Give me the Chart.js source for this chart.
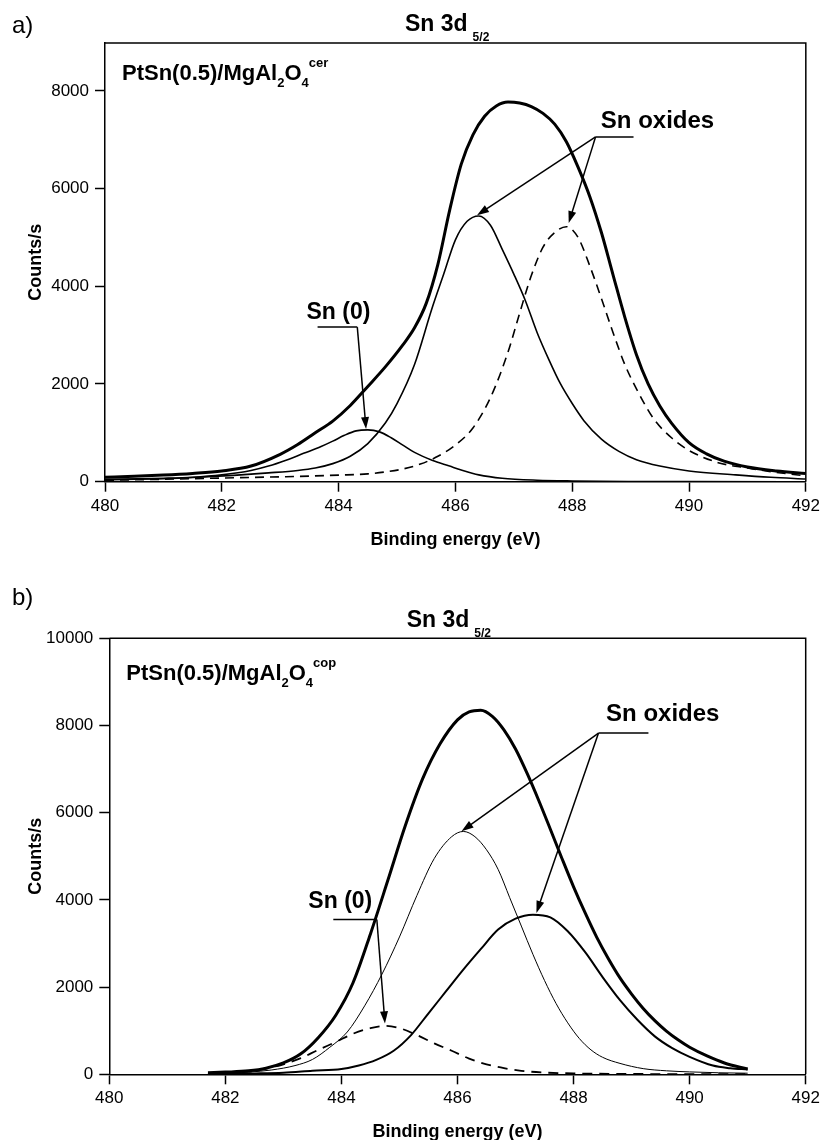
<!DOCTYPE html>
<html>
<head>
<meta charset="utf-8">
<title>Sn 3d 5/2</title>
<script src="https://cdn.jsdelivr.net/npm/chart.js@4.4.1/dist/chart.umd.min.js"></script>
<style>
body { margin: 0; background: #fff; }
canvas { position: absolute; left: 0; }
#chartA { top: 0; }
#chartB { top: 560px; }
</style>
</head>
<body>
<canvas id="chartA" width="824" height="560"></canvas>
<canvas id="chartB" width="824" height="580"></canvas>
<script>
"use strict";

const FONT = "'Liberation Sans', Arial, Helvetica, sans-serif";

// axis ticks
let xTicks = [480, 482, 484, 486, 488, 490, 492];
let yTicksA = [0, 2000, 4000, 6000, 8000];
let yTicksB = [0, 2000, 4000, 6000, 8000, 10000];

/* ---- a) PtSn(0.5)/MgAl2O4 cer ---- */
// envelope (thick)
let aEnvE = [480.0, 480.5, 481.0, 481.5, 482.0, 482.5, 483.0, 483.3, 483.6, 483.9, 484.2, 484.5, 484.8, 485.1, 485.3, 485.5, 485.7, 485.9, 486.1, 486.3, 486.5, 486.7, 486.9, 487.1, 487.3, 487.5, 487.7, 487.9, 488.1, 488.3, 488.5, 488.7, 488.9, 489.1, 489.3, 489.5, 489.7, 490.0, 490.3, 490.6, 491.0, 491.5, 492.0];
let aEnvV = [90, 110, 135, 170, 220, 320, 560, 760, 1000, 1240, 1560, 1950, 2350, 2800, 3150, 3650, 4450, 5550, 6500, 7100, 7480, 7690, 7770, 7750, 7680, 7540, 7320, 6960, 6440, 5840, 5100, 4230, 3370, 2600, 2000, 1550, 1200, 800, 570, 420, 300, 220, 170];
// Sn (0)
let aSn0E = [480.0, 481.0, 481.5, 482.0, 482.5, 482.8, 483.1, 483.4, 483.7, 483.9, 484.1, 484.3, 484.5, 484.7, 484.9, 485.1, 485.3, 485.6, 485.9, 486.1, 486.4, 486.8, 487.4, 488.0, 489.0, 490.0, 492.0];
let aSn0V = [50, 70, 90, 140, 230, 320, 440, 580, 720, 830, 950, 1040, 1060, 1020, 900, 750, 600, 440, 320, 240, 140, 70, 30, 15, 5, 2, 0];
// Sn oxide 1 (solid)
let aOx1E = [480.0, 481.0, 481.6, 482.2, 482.8, 483.3, 483.6, 483.9, 484.2, 484.5, 484.8, 485.0, 485.3, 485.6, 485.8, 486.0, 486.2, 486.4, 486.6, 486.8, 487.0, 487.2, 487.4, 487.6, 487.8, 488.0, 488.2, 488.5, 488.8, 489.1, 489.5, 490.0, 490.8, 491.4, 492.0];
let aOx1V = [40, 60, 90, 130, 180, 230, 280, 370, 520, 780, 1200, 1600, 2400, 3550, 4250, 4950, 5330, 5440, 5250, 4760, 4250, 3700, 3050, 2500, 2000, 1600, 1250, 870, 620, 450, 320, 220, 140, 90, 55];
// Sn oxide 2 (dashed)
let aOx2E = [480.0, 481.0, 482.0, 483.0, 483.5, 484.0, 484.5, 484.8, 485.1, 485.4, 485.7, 486.0, 486.3, 486.6, 486.9, 487.1, 487.3, 487.5, 487.7, 487.9, 488.1, 488.3, 488.5, 488.7, 488.9, 489.1, 489.4, 489.7, 490.0, 490.5, 491.0, 491.5, 492.0];
let aOx2V = [30, 50, 75, 100, 115, 135, 160, 200, 260, 360, 520, 750, 1100, 1720, 2650, 3450, 4220, 4800, 5100, 5220, 5000, 4420, 3750, 3050, 2400, 1900, 1280, 900, 640, 390, 280, 190, 120];

/* ---- b) PtSn(0.5)/MgAl2O4 cop ---- */
let bEnvE = [481.7, 482.0, 482.4, 482.7, 483.0, 483.3, 483.6, 483.9, 484.2, 484.5, 484.8, 485.1, 485.4, 485.7, 486.0, 486.2, 486.4, 486.6, 486.8, 487.0, 487.2, 487.4, 487.6, 487.8, 488.0, 488.2, 488.4, 488.6, 488.8, 489.0, 489.2, 489.4, 489.6, 489.8, 490.0, 490.3, 490.6, 491.0];
let bEnvV = [35, 50, 80, 140, 260, 470, 840, 1350, 2100, 3220, 4450, 5700, 6780, 7580, 8130, 8310, 8350, 8210, 7900, 7460, 6900, 6280, 5620, 4950, 4300, 3700, 3140, 2650, 2210, 1840, 1510, 1230, 990, 790, 620, 420, 260, 120];
// Sn (0) dashed
let bSn0E = [481.7, 482.0, 482.4, 482.7, 483.0, 483.3, 483.6, 483.9, 484.2, 484.5, 484.75, 485.0, 485.3, 485.6, 485.9, 486.2, 486.5, 486.8, 487.1, 487.5, 488.0, 489.0, 490.0, 491.0];
let bSn0V = [15, 25, 60, 130, 230, 370, 560, 740, 930, 1060, 1110, 1060, 900, 710, 540, 360, 230, 140, 80, 40, 20, 8, 4, 2];
// Sn oxide 1 (thin)
let bOx1E = [481.7, 482.0, 482.4, 482.8, 483.2, 483.5, 483.8, 484.1, 484.4, 484.7, 485.0, 485.3, 485.6, 485.9, 486.1, 486.3, 486.5, 486.7, 486.9, 487.1, 487.3, 487.5, 487.7, 487.9, 488.1, 488.3, 488.5, 488.8, 489.2, 489.6, 490.0, 490.5, 491.0];
let bOx1V = [20, 30, 50, 100, 200, 340, 620, 970, 1570, 2300, 3150, 4100, 4950, 5450, 5570, 5450, 5150, 4700, 4050, 3400, 2750, 2150, 1620, 1180, 820, 560, 390, 250, 130, 80, 55, 35, 25];
// Sn oxide 2 (solid)
let bOx2E = [481.7, 482.5, 483.0, 483.5, 484.0, 484.3, 484.6, 484.9, 485.2, 485.5, 485.8, 486.1, 486.4, 486.7, 487.0, 487.3, 487.6, 487.9, 488.2, 488.5, 488.8, 489.1, 489.4, 489.7, 490.0, 490.4, 490.7, 491.0];
let bOx2V = [10, 20, 35, 80, 120, 200, 330, 540, 900, 1400, 1900, 2400, 2870, 3320, 3570, 3660, 3600, 3280, 2800, 2230, 1700, 1250, 870, 600, 400, 200, 140, 110];

// join energy and counts into {x,y} points
function toPoints(E, V) {
    let pts = [];
    for (let i = 0; i < E.length; i++) {
        pts.push({ x: E[i], y: V[i] });
    }
    return pts;
}

function line(E, V, width, dash) {
    return {
        data: toPoints(E, V),
        borderColor: "#000",
        borderWidth: width,
        borderDash: dash || [],
        fill: false,
        pointRadius: 0,
        cubicInterpolationMode: "monotone"
    };
}

// text with sub / superscripts
function drawParts(ctx, x, y, parts) {
    for (let p of parts) {
        ctx.font = "bold " + p.size + "px " + FONT;
        ctx.fillText(p.t, x, y + (p.dy || 0));
        x += ctx.measureText(p.t).width + (p.gap || 0);
    }
}

function arrow(ctx, x1, y1, x2, y2) {
    let ang = Math.atan2(y2 - y1, x2 - x1);
    let len = 12, half = 4;
    ctx.beginPath();
    ctx.moveTo(x1, y1);
    ctx.lineTo(x2 - Math.cos(ang) * len * 0.8, y2 - Math.sin(ang) * len * 0.8);
    ctx.stroke();
    ctx.beginPath();
    ctx.moveTo(x2, y2);
    ctx.lineTo(x2 - len * Math.cos(ang) + half * Math.sin(ang), y2 - len * Math.sin(ang) - half * Math.cos(ang));
    ctx.lineTo(x2 - len * Math.cos(ang) - half * Math.sin(ang), y2 - len * Math.sin(ang) + half * Math.cos(ang));
    ctx.closePath();
    ctx.fill();
}

// frame, titles, labels and the arrows
function decorPlugin(d) {
    return {
        id: "decor",
        afterDraw: function (chart) {
            let ctx = chart.ctx;
            let xs = chart.scales.x, ys = chart.scales.y;
            let a = chart.chartArea;
            ctx.save();
            ctx.strokeStyle = "#000";
            ctx.fillStyle = "#000";
            ctx.lineWidth = 1.5;
            ctx.beginPath();
            ctx.moveTo(a.left, a.top);
            ctx.lineTo(a.right, a.top);
            ctx.lineTo(a.right, a.bottom);
            ctx.stroke();

            // panel letter
            ctx.textAlign = "left";
            ctx.textBaseline = "alphabetic";
            ctx.font = "24px " + FONT;
            ctx.fillText(d.letter, 12, d.letterY);

            // title
            drawParts(ctx, d.titleX, d.titleY, [
                { t: "Sn 3d", size: 23, gap: 5 },
                { t: "5/2", size: 12, dy: 10 }
            ]);

            // sample label
            drawParts(ctx, a.left + 17, a.top + d.labelDy, [
                { t: "PtSn(0.5)/MgAl", size: 22 },
                { t: "2", size: 13, dy: 7 },
                { t: "O", size: 22 },
                { t: "4", size: 13, dy: 7 },
                { t: d.sup, size: 13, dy: -13 }
            ]);

            // axis titles
            ctx.font = "bold 18px " + FONT;
            ctx.textAlign = "center";
            ctx.fillText("Binding energy (eV)", (a.left + a.right) / 2, a.bottom + 63);
            ctx.save();
            ctx.translate(41, (a.top + a.bottom) / 2);
            ctx.rotate(-Math.PI / 2);
            ctx.fillText("Counts/s", 0, 0);
            ctx.restore();

            // annotations, given in data units
            ctx.textAlign = "left";
            ctx.lineWidth = 1.5;
            for (let n of d.notes) {
                ctx.font = "bold " + n.size + "px " + FONT;
                ctx.fillText(n.text, xs.getPixelForValue(n.at[0]), ys.getPixelForValue(n.at[1]));
                let y0 = ys.getPixelForValue(n.leader[2]);
                let x0 = xs.getPixelForValue(n.leader[0]);
                let x1 = xs.getPixelForValue(n.leader[1]);
                ctx.beginPath();
                ctx.moveTo(x0, y0);
                ctx.lineTo(x1, y0);
                ctx.stroke();
                let ox = xs.getPixelForValue(n.from);
                for (let t of n.tips) {
                    arrow(ctx, ox, y0, xs.getPixelForValue(t[0]), ys.getPixelForValue(t[1]));
                }
            }
            ctx.restore();
        }
    };
}

function makeOptions(box, yMax, yTicks) {
    let tickFont = { family: FONT, size: 17 };
    return {
        responsive: false,
        animation: false,
        layout: { padding: { top: box.top, right: box.right, left: 0, bottom: 0 } },
        plugins: { legend: { display: false }, tooltip: { enabled: false } },
        scales: {
            x: {
                type: "linear",
                min: 480,
                max: 492,
                afterBuildTicks: function (s) { s.ticks = xTicks.map(v => ({ value: v })); },
                afterFit: function (s) { s.height = box.xAxis; },
                ticks: { font: tickFont, color: "#000", padding: 4, maxRotation: 0, autoSkip: false, callback: v => String(v) },
                grid: { drawOnChartArea: false, tickLength: 10, tickWidth: 1.5, tickColor: "#000" },
                border: { color: "#000", width: 1.5 }
            },
            y: {
                type: "linear",
                min: 0,
                max: yMax,
                afterBuildTicks: function (s) { s.ticks = yTicks.map(v => ({ value: v })); },
                afterFit: function (s) { s.width = box.left; },
                ticks: { font: tickFont, color: "#000", padding: 6, callback: v => String(v) },
                grid: { drawOnChartArea: false, tickLength: 10, tickWidth: 1.5, tickColor: "#000" },
                border: { color: "#000", width: 1.5 }
            }
        }
    };
}

/* ---- chart a ---- */
new Chart(document.getElementById("chartA"), {
    type: "line",
    data: {
        datasets: [
            line(aEnvE, aEnvV, 3),
            line(aSn0E, aSn0V, 1.6),
            line(aOx1E, aOx1V, 1.6),
            line(aOx2E, aOx2V, 1.6, [9, 6])
        ]
    },
    options: makeOptions({ top: 43, right: 16.3, left: 105, xAxis: 78.3 }, 8980, yTicksA),
    plugins: [decorPlugin({
        letter: "a)", letterY: 33, titleX: 405, titleY: 30.5, labelDy: 36.5, sup: "cer",
        notes: [
            { text: "Sn (0)", size: 23, at: [483.45, 3339], leader: [483.64, 484.32, 3165], from: 484.32, tips: [[484.47, 1078]] },
            { text: "Sn oxides", size: 24, at: [488.49, 7250], leader: [488.40, 489.05, 7058], from: 488.40, tips: [[486.37, 5456], [487.94, 5293]] }
        ]
    })]
});

/* ---- chart b ---- */
new Chart(document.getElementById("chartB"), {
    type: "line",
    data: {
        datasets: [
            line(bEnvE, bEnvV, 3),
            line(bSn0E, bSn0V, 1.8, [10, 7]),
            line(bOx1E, bOx1V, 1),
            line(bOx2E, bOx2V, 2)
        ]
    },
    options: makeOptions({ top: 78.3, right: 18.3, left: 109.3, xAxis: 65.7 }, 10000, yTicksB),
    plugins: [decorPlugin({
        letter: "b)", letterY: 45, titleX: 406.7, titleY: 66.5, labelDy: 41.7, sup: "cop",
        notes: [
            { text: "Sn (0)", size: 23, at: [483.43, 3810], leader: [483.86, 484.61, 3551], from: 484.61, tips: [[484.75, 1168]] },
            { text: "Sn oxides", size: 24, at: [488.56, 8094], leader: [488.43, 489.29, 7826], from: 488.43, tips: [[486.07, 5574], [487.36, 3702]] }
        ]
    })]
});
</script>
</body>
</html>
